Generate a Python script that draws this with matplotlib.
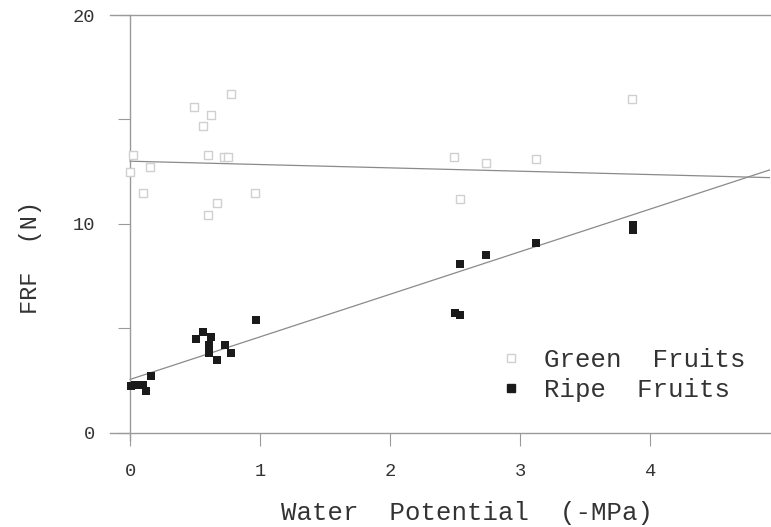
import matplotlib
matplotlib.use("Agg")
import matplotlib.pyplot as plt
from matplotlib.lines import Line2D
import numpy as np

# Fruit removal force (N) versus water potential (-MPa)
green_x = [0.00, 0.02, 0.15, 0.10, 0.49, 0.62, 0.56, 0.78, 0.60, 0.72, 0.75,
           0.96, 0.67, 0.60, 2.49, 2.74, 3.12, 2.54, 3.86]
green_y = [12.5, 13.3, 12.7, 11.5, 15.6, 15.2, 14.7, 16.2, 13.3, 13.2, 13.2,
           11.5, 11.0, 10.4, 13.2, 12.9, 13.1, 11.2, 16.0]

ripe_x = [0.01, 0.04, 0.10, 0.16, 0.12, 0.51, 0.56, 0.62, 0.61, 0.61, 0.73,
          0.67, 0.78, 0.97, 2.50, 2.54, 2.54, 2.74, 3.12, 3.87, 3.87]
ripe_y = [2.25, 2.30, 2.30, 2.70, 2.00, 4.50, 4.80, 4.60, 4.20, 3.80, 4.20,
          3.50, 3.80, 5.40, 5.75, 5.65, 8.10, 8.50, 9.10, 9.70, 9.95]

# Linear fits: intercept, slope
green_fit = (13.0, -0.16)
ripe_fit = (2.55, 2.04)

x_ticks = [0, 1, 2, 3, 4]
y_ticks = [0, 10, 20]
y_minor = [5, 15]

MONO = "Liberation Mono"
AXIS_GRAY = "#9a9a9a"
TEXT = "#333333"

fig = plt.figure(figsize=(7.71, 5.27), dpi=100)
ax = fig.add_axes([110 / 771, 1 - 440 / 527, 660 / 771, 425 / 527])

ax.set_xlim(-0.154, 4.92)
ax.set_ylim(-0.35, 20)

# regression lines
xl = np.array([0.0, 4.92])
ax.plot(xl, green_fit[0] + green_fit[1] * xl, color="#8a8a8a", lw=0.9, zorder=2)
ax.plot(xl, ripe_fit[0] + ripe_fit[1] * xl, color="#8a8a8a", lw=0.9, zorder=2)

# data points
ax.scatter(green_x, green_y, marker="s", s=32, facecolors="white",
           edgecolors="#d0d0d0", linewidths=1.0, zorder=3)
ax.scatter(ripe_x, ripe_y, marker="s", s=36, color="#1a1a1a",
           linewidths=0, zorder=4)

# spines
ax.spines["right"].set_visible(False)
ax.spines["left"].set_position(("data", 0))
ax.spines["bottom"].set_position(("data", 0))
for side in ("left", "bottom", "top"):
    ax.spines[side].set_color(AXIS_GRAY)
    ax.spines[side].set_linewidth(1.0)

ax.set_xticks(x_ticks)
ax.set_xticklabels([str(t) for t in x_ticks])
ax.set_yticks(y_ticks)
ax.set_yticklabels([str(t) for t in y_ticks])
ax.set_yticks(y_minor, minor=True)

ax.tick_params(axis="x", direction="out", length=9, width=0.8,
               color=AXIS_GRAY, pad=13, labelsize=13.5, labelcolor=TEXT)
ax.tick_params(axis="y", which="both", direction="out", length=9, width=0.8,
               color=AXIS_GRAY, pad=16, labelsize=13.5, labelcolor=TEXT)
for lab in ax.get_xticklabels() + ax.get_yticklabels():
    lab.set_fontfamily(MONO)

fig.text(467 / 771, 1 - 513 / 527, "Water  Potential  (-MPa)",
         ha="center", va="center", fontsize=18.5, family=MONO, color=TEXT)
fig.text(30 / 771, 1 - 258 / 527, "FRF  (N)", rotation=90,
         ha="center", va="center", fontsize=17, family=MONO, color=TEXT)

handles = [
    Line2D([], [], marker="s", ls="none", markersize=6, markerfacecolor="white",
           markeredgecolor="#d0d0d0", markeredgewidth=1.0, label="Green  Fruits"),
    Line2D([], [], marker="s", ls="none", markersize=6, color="#1a1a1a",
           label="Ripe  Fruits"),
]
leg = ax.legend(handles=handles, loc="upper left",
                bbox_to_anchor=((485 - 110) / 660, (440 - 335) / 425),
                frameon=False, borderpad=0, handlelength=1.0,
                handletextpad=0.8, labelspacing=0.25,
                prop={"family": MONO, "size": 18.5})
for t in leg.get_texts():
    t.set_color(TEXT)

fig.savefig("out.png", dpi=100)
